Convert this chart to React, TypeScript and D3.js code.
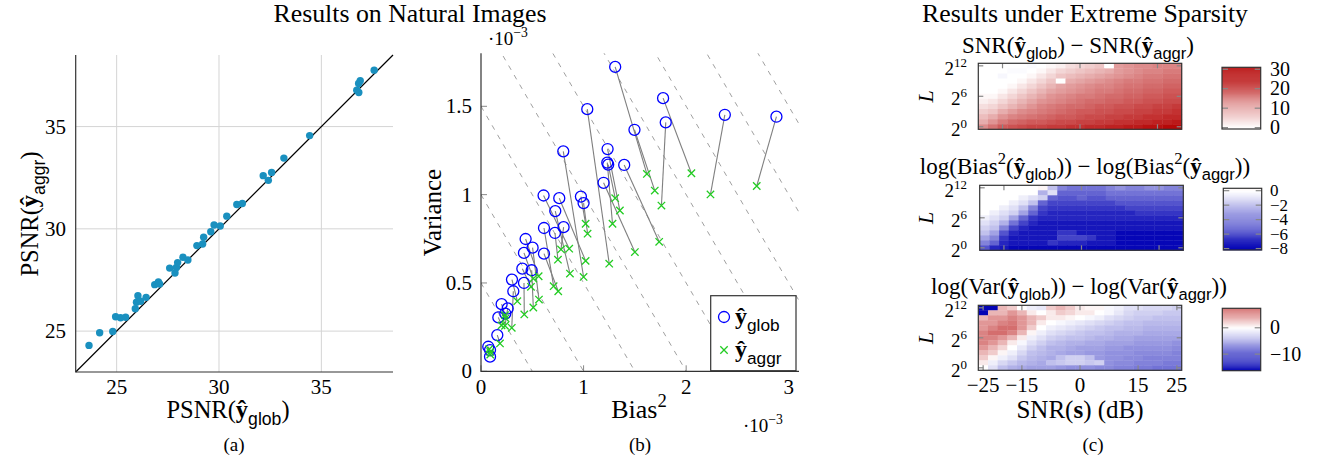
import * as d3 from "d3";
import { useEffect, useRef } from "react";

// (a) PSNR of global vs aggregated estimate
const psnrGlob = [23.65, 24.17, 24.81, 24.95, 25.19, 25.44, 25.91, 25.97, 26.04, 26.17, 26.44, 26.86, 27.04, 27.1, 27.59, 27.85, 27.92, 27.98, 28.24, 28.48, 28.92, 29.2, 29.25, 29.6, 29.76, 30.06, 30.38, 30.87, 31.14, 32.16, 32.41, 32.57, 33.17, 34.43, 36.73, 36.83, 36.82, 36.9, 37.58];
const psnrAggr = [24.3, 24.92, 24.98, 25.7, 25.65, 25.68, 26.09, 26.41, 26.73, 26.46, 26.65, 27.27, 27.4, 27.3, 28.08, 27.84, 28.11, 28.35, 28.61, 28.48, 29.18, 29.26, 29.59, 29.86, 30.19, 30.14, 30.62, 31.19, 31.24, 32.6, 32.37, 32.76, 33.46, 34.56, 36.78, 36.67, 37.11, 37.24, 37.76];
const psnrTicks = [25, 30, 35];

// (b) bias^2 / variance (x 1e-3)
const biasGlob = [1.308, 1.496, 1.775, 1.801, 2.377, 2.88, 1.396, 1.036, 1.195, 1.234, 1.231, 1.24, 0.974, 1.0, 0.802, 0.763, 0.61, 0.724, 0.805, 0.721, 0.614, 0.614, 0.435, 0.503, 0.419, 0.494, 0.403, 0.419, 0.302, 0.315, 0.26, 0.201, 0.237, 0.169, 0.159, 0.071, 0.088, 0.088];
const varGlob = [1.723, 1.367, 1.546, 1.409, 1.452, 1.441, 1.168, 1.484, 1.067, 1.258, 1.181, 1.17, 0.989, 0.952, 1.245, 0.98, 0.995, 0.907, 0.816, 0.783, 0.811, 0.666, 0.749, 0.7, 0.67, 0.572, 0.581, 0.5, 0.519, 0.453, 0.356, 0.38, 0.327, 0.305, 0.205, 0.139, 0.12, 0.083];
const biasAggr = [1.617, 1.694, 2.051, 1.759, 2.237, 2.688, 1.737, 1.25, 1.5, 1.354, 1.282, 1.308, 1.02, 1.039, 1.0, 1.02, 0.86, 0.867, 0.78, 0.75, 0.708, 0.753, 0.562, 0.565, 0.51, 0.51, 0.487, 0.422, 0.354, 0.3, 0.234, 0.234, 0.24, 0.2, 0.185, 0.08, 0.09, 0.09];
const varAggr = [1.117, 1.023, 1.121, 0.938, 1.001, 1.049, 0.733, 0.609, 0.675, 0.91, 0.835, 0.98, 0.835, 0.779, 0.534, 0.625, 0.694, 0.553, 0.69, 0.632, 0.482, 0.453, 0.538, 0.406, 0.525, 0.361, 0.478, 0.322, 0.397, 0.246, 0.258, 0.318, 0.3, 0.26, 0.158, 0.125, 0.11, 0.095];
const mseLevels = [0.5, 1, 1.5, 2, 2.5, 3, 3.5, 4, 4.5];
const biasTicks = [0, 1, 2, 3];
const varTicks = [0, 0.5, 1, 1.5];

// (c) heatmaps: columns = SNR(s) in dB, rows = log2 L (top row 2^12)
const snrLevels = [-25, -22.5, -20, -17.5, -15, -12.5, -10, -7.5, -5, -2.5, 0, 2.5, 5, 7.5, 10, 12.5, 15, 17.5, 20, 22.5, 25];
const lExps = [12, 11, 10, 9, 8, 7, 6, 5, 4, 3, 2, 1, 0];

const snrDiff = [
  [0, 0, 0, 0, 0, -0.5, 0, 1, 2, 4, 5, 6, 7, 0, 12, 13, 14, 14, 15, 15, 15],
  [0, 0, 0, -0.5, -0.5, 0, 1, 3, 5, 6, 7, 8, 9, 10, 12, 13, 14, 15, 15, 16, 16],
  [0, 0, -1, 0, 0, 1, 3, 5, 7, 8, 9, 10, 11, 12, 13, 14, 15, 16, 16, 17, 17],
  [0, 0, 0, 0, 1, 3, 5, 7, 0, 10, 11, 12, 13, 14, 15, 16, 16, 17, 17, 18, 18],
  [0, 0, 0, 1, 3, 5, 7, 9, 11, 12, 13, 14, 15, 15, 16, 17, 17, 18, 18, 19, 19],
  [0, 0, 1, 3, 5, 7, 9, 11, 12, 13, 14, 15, 16, 16, 17, 18, 18, 19, 19, 20, 20],
  [1, 1, 3, 5, 7, 9, 11, 13, 14, 15, 16, 16, 17, 18, 18, 19, 19, 20, 20, 21, 21],
  [2, 3, 5, 7, 9, 11, 13, 14, 15, 16, 17, 18, 18, 19, 19, 20, 20, 21, 21, 22, 22],
  [4, 5, 7, 9, 11, 13, 15, 16, 17, 18, 18, 19, 20, 20, 21, 21, 22, 22, 23, 23, 24],
  [6, 7, 10, 12, 14, 15, 16, 17, 18, 19, 20, 20, 21, 21, 22, 22, 23, 23, 24, 24, 25],
  [8, 10, 13, 15, 16, 17, 18, 19, 20, 20, 21, 22, 22, 23, 23, 24, 24, 25, 25, 26, 26],
  [10, 13, 16, 18, 19, 20, 20, 21, 22, 22, 23, 23, 24, 24, 25, 25, 26, 26, 27, 27, 28],
  [14, 17, 20, 21, 22, 23, 23, 24, 24, 25, 25, 26, 26, 27, 27, 28, 28, 29, 29, 30, 30],
];

const biasDiff = [
  [0, 0, 0, 0, 0, 0, 0.3, -2, -4, -4.5, -4.5, -4.5, -4.5, -4, -3.5, -4, -4, -3.5, -3.5, -4, -4],
  [0, 0, 0, 0, 0, 0, -2.5, -1, -5, -5, -5, -5, -5, -4.5, -4.5, -4.5, -4.5, -4.5, -4.5, -4.5, -4.5],
  [0, 0, 0, 0, -0.5, -1, -1.5, -5, -5.5, -5.5, -5, -5.5, -5.5, -5, -5, -5, -5, -5, -5, -5, -5],
  [0, 0, 0, -0.5, -1, -2, -5, -6, -6, -6, -6, -6, -6, -6, -5.5, -5.5, -5.5, -5.5, -5.5, -5.5, -5.5],
  [0, 0, -0.5, -1, -2, -4, -6, -6.5, -6.5, -6.5, -6.5, -6.5, -6.5, -6.5, -6.5, -6, -6, -6, -6, -6, -6],
  [0, -0.5, -1, -1.5, -3, -5, -6.5, -7, -7, -7, -7, -7, -7, -7, -7, -7, -6.5, -6.5, -6.5, -6.5, -6.5],
  [-0.5, -1, -1.5, -3, -5, -6.5, -7, -7, -7, -7, -7, -7, -7, -7, -7, -7, -7, -7, -7, -7, -7],
  [-1, -1.5, -2.5, -4.5, -6, -7, -7.5, -7.5, -7.5, -7.5, -7.5, -7.5, -7.5, -7.5, -7.5, -7.5, -7.5, -7.5, -7.5, -7.5, -7.5],
  [-1.5, -2, -4, -6, -7, -7.5, -7.5, -7.5, -7.5, -7.5, -7.5, -7.5, -7.5, -7.5, -7.5, -7.5, -7.5, -7.5, -7.5, -7.5, -7.5],
  [-2, -3, -5.5, -7, -7.5, -7.5, -7.5, -7.5, -6.5, -6.5, -7.5, -7.5, -7.5, -7.5, -8, -8, -8, -8, -8, -8, -8],
  [-3, -4, -6.5, -7.5, -7.5, -7.5, -7.5, -7.5, -6, -6, -6, -6.5, -7.5, -7.5, -8, -8, -8, -8, -8, -8, -8],
  [-4, -5, -7, -7.5, -7.5, -7.5, -7.5, -6.5, -7, -7, -7, -7.5, -7.5, -7.5, -8, -8, -8, -8, -8, -8, -8],
  [-5.5, -7, -7.5, -8, -8, -8, -8, -8, -8, -8, -8, -8, -8, -8, -8, -8, -8, -8, -8, -8, -8],
];

const varDiff = [
  [-16, -16, 3.5, 2.5, 0, -1, -1.5, 2.5, 3.5, 2.5, 1, 0.5, 0.5, -0.5, -1, -2, -2, -2.5, -2.5, -2.5, -3],
  [-16, 3.5, 3.5, 5, 3.5, 1, 0, 1, 2.5, 2, 1, 1, 0, -0.5, -1.5, -2.5, -3, -3, -3, -3.5, -3.5],
  [3.5, 5, 5, 6, 5, 3.5, 2.5, 1, 1, 0.5, 0, -0.5, -1, -2, -2.5, -3, -3.5, -3.5, -4, -4, -4],
  [5, 5, 6, 6.5, 5, 3.5, 1, 0, -0.5, -1, -1.5, -2, -2.5, -3, -3.5, -4, -4, -4.5, -4.5, -4.5, -4.5],
  [5, 6, 7, 7, 5, 2.5, 0, -1, -1.5, -2, -2.5, -3, -3.5, -4, -4, -4.5, -4.5, -5, -5, -5, -5],
  [6, 7, 7, 6, 3.5, 0.5, -1, -2, -2.5, -3, -3.5, -4, -4, -4.5, -5, -5, -5, -5.5, -5.5, -5.5, -5.5],
  [6, 6, 5, 3.5, 1, -1, -2, -3, -3.5, -4, -4, -4.5, -5, -5, -5.5, -5.5, -6, -6, -6, -6, -6],
  [6, 5, 3.5, 1, -0.5, -2, -3, -4, -4.5, -5, -5, -5.5, -5.5, -6, -6, -6, -6.5, -6.5, -6.5, -6.5, -7],
  [5, 3.5, 2, 0, -1.5, -3, -4, -5, -5, -5.5, -6, -6, -6, -6.5, -6.5, -7, -7, -7, -7, -7, -7.5],
  [3.5, 2.5, 0.5, -1, -2.5, -4, -4.5, -5, -5.5, -6, -6, -6.5, -6.5, -7, -7, -7, -7.5, -7.5, -7.5, -7.5, -8],
  [2.5, 0.5, -1, -2, -3.5, -4.5, -5, -5.5, -4, -3, -3, -4, -6.5, -7, -7, -7.5, -7.5, -8, -8, -8, -8],
  [1, -1, -2.5, -3.5, -4.5, -5, -5.5, -4, -3.5, -3, -3, -3.5, -3, -7, -7.5, -7.5, -8, -8, -8, -8.5, -8.5],
  [0, -2, -4, -5, -5.5, -6, -6, -6, -6.5, -7, -7, -7, -7.5, -7.5, -8, -8, -8.5, -8.5, -9, -9, -9],
];

const SERIF = "'Liberation Serif', 'DejaVu Serif', serif";
const SANS = "'Liberation Sans', 'DejaVu Sans', sans-serif";
const AXIS = "#333";
const TICK = "#888";

type Seg = { t: string; sub?: boolean; sup?: boolean; bold?: boolean; italic?: boolean; sans?: boolean };

const yGlob: Seg[] = [{ t: "ŷ", bold: true }, { t: "glob", sub: true, sans: true }];
const yAggr: Seg[] = [{ t: "ŷ", bold: true }, { t: "aggr", sub: true, sans: true }];

// write a text made of tspans (math-like labels)
function rich(parent: any, x: number, y: number, segs: Seg[], size: number, anchor = "middle", rotate = false, supScale = 0.72) {
  const t = parent
    .append("text")
    .attr("text-anchor", anchor)
    .style("font-family", SERIF)
    .style("font-size", size + "px")
    .attr("fill", "#000");
  if (rotate) t.attr("transform", `translate(${x},${y}) rotate(-90)`).attr("x", 0).attr("y", 0);
  else t.attr("x", x).attr("y", y);
  let shift = 0;
  segs.forEach((s) => {
    const target = s.sub ? size * 0.28 : s.sup ? -size * 0.42 : 0;
    t.append("tspan")
      .attr("dy", target - shift)
      .style("font-size", (s.sub || s.sup ? size * supScale : size) + "px")
      .style("font-family", s.sans ? SANS : SERIF)
      .style("font-weight", s.bold ? "bold" : "normal")
      .style("font-style", s.italic ? "italic" : "normal")
      .text(s.t);
    shift = target;
  });
  return t;
}

const num = (t: number) => (t < 0 ? "−" + -t : String(t));

// diverging blue-white-red colormap
function bwr(v: number, neg: number, pos: number) {
  if (v >= 0) return d3.interpolateRgb("#ffffff", "#b40000")(Math.min(1, v / pos));
  return d3.interpolateRgb("#ffffff", "#0000b4")(Math.min(1, -v / neg));
}

export default function App() {
  const svgRef = useRef<SVGSVGElement>(null);

  useEffect(() => {
    const svg = d3.select(svgRef.current);
    svg.selectAll("*").remove();

    // ---------- titles and captions ----------
    svg.append("text").attr("x", 410).attr("y", 22).attr("text-anchor", "middle")
      .style("font-family", SERIF).style("font-size", "25.8px").text("Results on Natural Images");
    svg.append("text").attr("x", 1085).attr("y", 22).attr("text-anchor", "middle")
      .style("font-family", SERIF).style("font-size", "25.8px").text("Results under Extreme Sparsity");
    [["(a)", 234], ["(b)", 640], ["(c)", 1093]].forEach(([t, x]) => {
      svg.append("text").attr("x", x).attr("y", 451).attr("text-anchor", "middle")
        .style("font-family", SERIF).style("font-size", "19px").text(t as string);
    });

    // ---------- (a) ----------
    const ga = svg.append("g");
    const aX = d3.scaleLinear().domain([23, 38.5]).range([75.7, 393]);
    const aY = d3.scaleLinear().domain([23, 38.5]).range([372, 55]);
    psnrTicks.forEach((t) => {
      ga.append("line").attr("x1", aX(t)).attr("x2", aX(t)).attr("y1", aY(23)).attr("y2", aY(38.5))
        .attr("stroke", "#d4d4d4").attr("stroke-width", 1);
      ga.append("line").attr("x1", aX(23)).attr("x2", aX(38.5)).attr("y1", aY(t)).attr("y2", aY(t))
        .attr("stroke", "#d4d4d4").attr("stroke-width", 1);
      ga.append("text").attr("x", aX(t)).attr("y", 394).attr("text-anchor", "middle")
        .style("font-family", SERIF).style("font-size", "21px").text(t);
      ga.append("text").attr("x", 66).attr("y", aY(t) + 7).attr("text-anchor", "end")
        .style("font-family", SERIF).style("font-size", "21px").text(t);
    });
    ga.append("line").attr("x1", aX(23)).attr("y1", aY(23)).attr("x2", aX(38.5)).attr("y2", aY(38.5))
      .attr("stroke", "#000").attr("stroke-width", 1.2);
    ga.append("path")
      .attr("d", `M${aX(23)},${aY(38.5)}V${aY(23)}H${aX(38.5)}`)
      .attr("fill", "none").attr("stroke", AXIS).attr("stroke-width", 1.2);
    ga.selectAll("circle.pt").data(psnrGlob).enter().append("circle")
      .attr("cx", (d) => aX(d)).attr("cy", (d, i) => aY(psnrAggr[i])).attr("r", 3.7)
      .attr("fill", "#1a90bf");
    rich(ga, 228, 418, [{ t: "PSNR(" }, ...yGlob, { t: ")" }], 24.5);
    rich(ga, 38, 214, [{ t: "PSNR(" }, ...yAggr, { t: ")" }], 24.5, "middle", true);

    // ---------- (b) ----------
    const gb = svg.append("g");
    const bX = d3.scaleLinear().domain([0, 3.1]).range([481, 799]);
    const bY = d3.scaleLinear().domain([0, 1.8]).range([371.3, 53.3]);
    svg.append("defs").append("clipPath").attr("id", "clipB").append("rect")
      .attr("x", bX(0)).attr("y", bY(1.8)).attr("width", bX(3.1) - bX(0)).attr("height", bY(0) - bY(1.8));
    const iso = gb.append("g").attr("clip-path", "url(#clipB)");
    mseLevels.forEach((c) => {
      iso.append("line").attr("x1", bX(0)).attr("y1", bY(c)).attr("x2", bX(c)).attr("y2", bY(0))
        .attr("stroke", "#a0a0a0").attr("stroke-width", 1).attr("stroke-dasharray", "5 6");
    });
    biasTicks.forEach((t) => {
      gb.append("line").attr("x1", bX(t)).attr("x2", bX(t)).attr("y1", bY(0)).attr("y2", bY(0) - 6)
        .attr("stroke", TICK);
      gb.append("text").attr("x", bX(t)).attr("y", 394).attr("text-anchor", "middle")
        .style("font-family", SERIF).style("font-size", "21px").text(t);
    });
    varTicks.forEach((t) => {
      gb.append("line").attr("x1", bX(0)).attr("x2", bX(0) + 6).attr("y1", bY(t)).attr("y2", bY(t))
        .attr("stroke", TICK);
      gb.append("text").attr("x", 472).attr("y", bY(t) + 7).attr("text-anchor", "end")
        .style("font-family", SERIF).style("font-size", "21px").text(t);
    });
    gb.append("path")
      .attr("d", `M${bX(0)},${bY(1.8)}V${bY(0)}H${bX(3.1)}`)
      .attr("fill", "none").attr("stroke", AXIS).attr("stroke-width", 1.2);
    gb.selectAll("line.pair").data(biasGlob).enter().append("line")
      .attr("x1", (d) => bX(d)).attr("y1", (d, i) => bY(varGlob[i]))
      .attr("x2", (d, i) => bX(biasAggr[i])).attr("y2", (d, i) => bY(varAggr[i]))
      .attr("stroke", "#7f7f7f").attr("stroke-width", 1.1);
    gb.selectAll("circle.glob").data(biasGlob).enter().append("circle")
      .attr("cx", (d) => bX(d)).attr("cy", (d, i) => bY(varGlob[i])).attr("r", 5.5)
      .attr("fill", "none").attr("stroke", "#0000ff").attr("stroke-width", 1.3);
    const cross = (g: any, x: number, y: number) => {
      g.append("path").attr("d", `M${x - 3.7},${y - 3.7}L${x + 3.7},${y + 3.7}M${x - 3.7},${y + 3.7}L${x + 3.7},${y - 3.7}`)
        .attr("stroke", "#22cc22").attr("stroke-width", 1.3);
    };
    biasAggr.forEach((d, i) => cross(gb, bX(d), bY(varAggr[i])));
    // legend
    gb.append("rect").attr("x", 710.7).attr("y", 295.7).attr("width", 85.3).attr("height", 75)
      .attr("fill", "#fff").attr("stroke", AXIS).attr("stroke-width", 1.2);
    gb.append("circle").attr("cx", 724).attr("cy", 317).attr("r", 5.5)
      .attr("fill", "none").attr("stroke", "#0000ff").attr("stroke-width", 1.3);
    cross(gb, 724, 350);
    rich(gb, 735, 324, yGlob, 24, "start");
    rich(gb, 735, 357, yAggr, 24, "start");
    rich(gb, 639, 418, [{ t: "Bias" }, { t: "2", sup: true }], 26);
    rich(gb, 441, 212.5, [{ t: "Variance" }], 25, "middle", true);
    rich(gb, 488, 45, [{ t: "·10" }, { t: "−3", sup: true }], 19, "start");
    rich(gb, 743, 432, [{ t: "·10" }, { t: "−3", sup: true }], 19, "start");

    // ---------- (c) ----------
    const gc = svg.append("g");
    const heat = (
      data: number[][], box: { x0: number; x1: number; y0: number; y1: number },
      neg: number, pos: number, xTicks: number[], labels: boolean,
    ) => {
      const hx = d3.scaleLinear().domain([-26.25, 26.25]).range([box.x0, box.x1]);
      const hy = d3.scaleLinear().domain([-0.5, 12.5]).range([box.y1, box.y0]);
      const g = gc.append("g");
      data.forEach((row, r) => {
        row.forEach((v, c) => {
          const s = snrLevels[c];
          const e = lExps[r];
          g.append("rect").attr("x", hx(s - 1.25)).attr("y", hy(e + 0.5))
            .attr("width", hx(s + 1.25) - hx(s - 1.25) + 0.4).attr("height", hy(e - 0.5) - hy(e + 0.5) + 0.4)
            .attr("fill", bwr(v, neg, pos));
        });
      });
      xTicks.forEach((t) => {
        g.append("line").attr("x1", hx(t)).attr("x2", hx(t)).attr("y1", box.y1).attr("y2", box.y1 - 5).attr("stroke", TICK).attr("stroke-width", 1.2);
        g.append("line").attr("x1", hx(t)).attr("x2", hx(t)).attr("y1", box.y0).attr("y2", box.y0 + 5).attr("stroke", TICK).attr("stroke-width", 1.2);
        if (labels) {
          g.append("text").attr("x", hx(t)).attr("y", 391.5).attr("text-anchor", "middle")
            .style("font-family", SERIF).style("font-size", "21px").text(num(t));
        }
      });
      [0, 6, 12].forEach((e) => {
        g.append("line").attr("x1", box.x0).attr("x2", box.x0 + 5).attr("y1", hy(e)).attr("y2", hy(e)).attr("stroke", TICK).attr("stroke-width", 1.2);
        g.append("line").attr("x1", box.x1).attr("x2", box.x1 - 5).attr("y1", hy(e)).attr("y2", hy(e)).attr("stroke", TICK).attr("stroke-width", 1.2);
        rich(g, 967, hy(e) + 9, [{ t: "2" }, { t: String(e), sup: true }], 19, "end", false, 0.68);
      });
      g.append("rect").attr("x", box.x0).attr("y", box.y0).attr("width", box.x1 - box.x0).attr("height", box.y1 - box.y0)
        .attr("fill", "none").attr("stroke", AXIS).attr("stroke-width", 1.2);
      rich(g, 933, (box.y0 + box.y1) / 2, [{ t: "L", italic: true }], 22, "middle", true);
    };

    const colorbar = (
      box: { x0: number; x1: number; y0: number; y1: number }, lo: number, hi: number,
      neg: number, pos: number, ticks: number[], size: number,
    ) => {
      const cy = d3.scaleLinear().domain([lo, hi]).range([box.y1, box.y0]);
      const g = gc.append("g");
      const steps = d3.range(0, 60);
      steps.forEach((k) => {
        const v0 = lo + ((hi - lo) * k) / 60;
        const v1 = lo + ((hi - lo) * (k + 1)) / 60;
        g.append("rect").attr("x", box.x0).attr("y", cy(v1)).attr("width", box.x1 - box.x0)
          .attr("height", cy(v0) - cy(v1) + 0.3).attr("fill", bwr((v0 + v1) / 2, neg, pos));
      });
      ticks.forEach((t) => {
        g.append("line").attr("x1", box.x0).attr("x2", box.x0 + 6).attr("y1", cy(t)).attr("y2", cy(t)).attr("stroke", TICK).attr("stroke-width", 1.2);
        g.append("line").attr("x1", box.x1).attr("x2", box.x1 - 6).attr("y1", cy(t)).attr("y2", cy(t)).attr("stroke", TICK).attr("stroke-width", 1.2);
        g.append("text").attr("x", 1270).attr("y", cy(t) + size * 0.33).attr("text-anchor", "start")
          .style("font-family", SERIF).style("font-size", size + "px").text(num(t));
      });
      g.append("rect").attr("x", box.x0).attr("y", box.y0).attr("width", box.x1 - box.x0).attr("height", box.y1 - box.y0)
        .attr("fill", "none").attr("stroke", AXIS).attr("stroke-width", 1.2);
    };

    heat(snrDiff, { x0: 978.3, x1: 1181.7, y0: 63.3, y1: 129.3 }, 31, 31, [-20, 0, 20], false);
    colorbar({ x0: 1222, x1: 1260.7, y0: 67.3, y1: 129 }, -0.7, 31, 31, 31, [0, 10, 20, 30], 20);
    rich(gc, 1078, 53, [{ t: "SNR(" }, ...yGlob, { t: ") − SNR(" }, ...yAggr, { t: ")" }], 23);

    heat(biasDiff, { x0: 979.7, x1: 1183.3, y0: 185.3, y1: 250.3 }, 8.2, 8.2, [-20, 0, 20], false);
    colorbar({ x0: 1223.3, x1: 1261.7, y0: 188.3, y1: 250 }, -8.2, 0.33, 8.2, 8.2, [0, -2, -4, -6, -8], 17);
    rich(gc, 1085, 173.5, [{ t: "log(Bias" }, { t: "2", sup: true }, { t: "(" }, ...yGlob, { t: ")) − log(Bias" }, { t: "2", sup: true }, { t: "(" }, ...yAggr, { t: "))" }], 23);

    heat(varDiff, { x0: 978.3, x1: 1181.7, y0: 305.3, y1: 370.3 }, 16.3, 12.3, [-25, -15, 0, 15, 25], true);
    colorbar({ x0: 1222.3, x1: 1260.7, y0: 308.3, y1: 370.7 }, -16.3, 7.4, 16.3, 12.3, [0, -10], 20);
    rich(gc, 1079, 293.5, [{ t: "log(Var(" }, ...yGlob, { t: ")) − log(Var(" }, ...yAggr, { t: "))" }], 23);

    rich(gc, 1080, 418, [{ t: "SNR(" }, { t: "s", bold: true }, { t: ") (dB)" }], 25);
  }, []);

  return (
    <svg
      ref={svgRef}
      width={1328}
      height={459}
      style={{ position: "absolute", left: 0, top: 0, background: "#fff" }}
    />
  );
}
